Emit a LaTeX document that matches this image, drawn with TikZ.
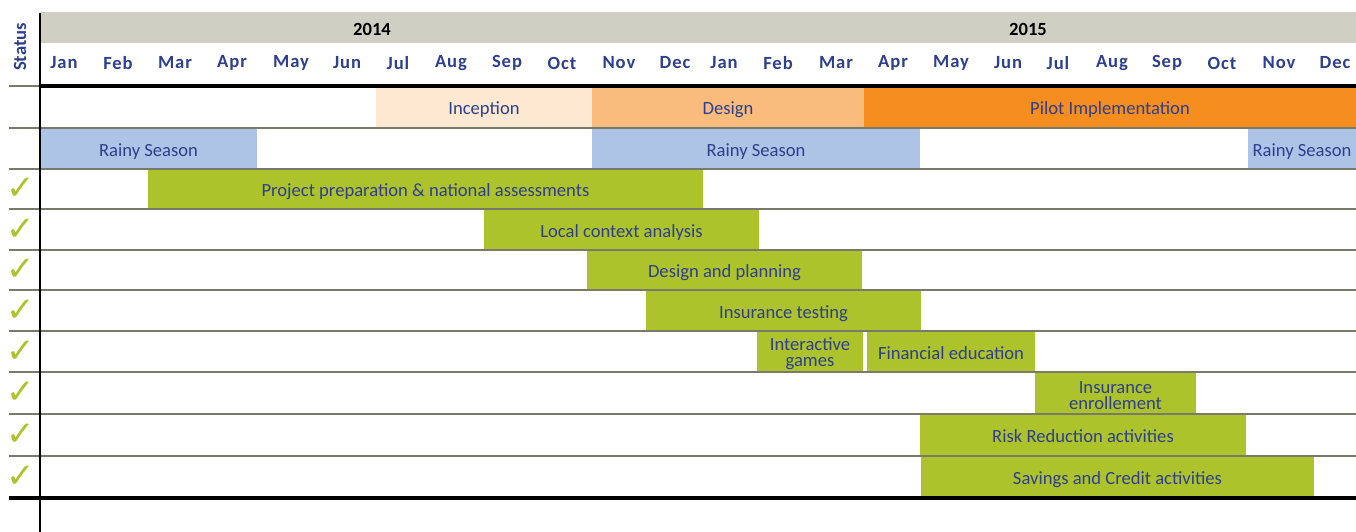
\documentclass[tikz,border=0pt]{standalone}
\usepackage{fontspec}
\setmainfont{Carlito}
\newfontfamily\symfont{DejaVu Sans}
\newfontfamily\monfont[LetterSpace=5]{Carlito}
\definecolor{txtblue}{HTML}{2F3F8C}
\definecolor{barGreen}{HTML}{ADC32B}
\definecolor{hdrGray}{HTML}{CFCFC3}
\definecolor{lineGray}{HTML}{7A7A6C}
\definecolor{incep}{HTML}{FDE8D1}
\definecolor{design}{HTML}{F9BC7C}
\definecolor{pilot}{HTML}{F68E1F}
\definecolor{rainy}{HTML}{AEC4E7}
\tikzset{
  barbase/.style={draw=none, anchor=south west, inner sep=0pt, outer sep=0pt, text=txtblue, font=\fontsize{18.6}{16}\selectfont, align=center},
  bar/.style={barbase, text height=19pt, text depth=4pt},
  bartwo/.style={barbase},
  mon/.style={text=txtblue, font=\monfont\bfseries\fontsize{18.6}{19}\selectfont},
  rowline/.style={draw=lineGray, line width=1.6pt},
  chk/.style={text=barGreen, font=\symfont\fontsize{34}{34}\selectfont, inner sep=0pt}
}
\begin{document}
\begin{tikzpicture}[x=1pt,y=-1pt]
\useasboundingbox (0,0) rectangle (1356,532);
% header
\fill[hdrGray] (40,12) rectangle (1356,43);
\node[font=\bfseries\fontsize{18.6}{19}\selectfont] (y14) at (372,29) {2014};
\node[font=\bfseries\fontsize{18.6}{19}\selectfont] (y15) at (1028,29) {2015};
\node[rotate=90, text=txtblue, font=\bfseries\fontsize{18.6}{19}\selectfont] (status) at (20,47) {Status};
\foreach \m/\x [count=\i] in {Jan/64,Feb/118,Mar/175,Apr/232,May/291,Jun/347,Jul/398,Aug/451,Sep/507,Oct/562,Nov/619,Dec/675,Jan/724,Feb/778,Mar/836,Apr/893,May/951,Jun/1008,Jul/1058,Aug/1112,Sep/1167,Oct/1222,Nov/1279,Dec/1335}
  \node[mon] (m\i) at (\x,63) {\m};
% bars row 1
\node[bar, fill=incep, minimum width=216pt, minimum height=42pt] (inc) at (376,128) {Inception};
\node[bar, fill=design, minimum width=272pt, minimum height=42pt] (des) at (592,128) {Design};
\node[bar, fill=pilot, minimum width=492pt, minimum height=42pt] (pil) at (864,128) {Pilot Implementation};
% row 2
\node[bar, fill=rainy, minimum width=217pt, minimum height=41pt] (r1) at (40,169) {Rainy Season};
\node[bar, fill=rainy, minimum width=328pt, minimum height=41pt] (r2) at (592,169) {Rainy Season};
\node[bar, fill=rainy, minimum width=108pt, minimum height=41pt] (r3) at (1248,169) {Rainy Season};
% activities
\node[bar, fill=barGreen, minimum width=555pt, minimum height=40pt] (a1) at (148,209) {Project preparation \& national assessments};
\node[bar, fill=barGreen, minimum width=275pt, minimum height=41pt] (a2) at (484,250) {Local context analysis};
\node[bar, fill=barGreen, minimum width=275pt, minimum height=40pt] (a3) at (587,290) {Design and planning};
\node[bar, fill=barGreen, minimum width=275pt, minimum height=41pt] (a4) at (646,331) {Insurance testing};
\node[bartwo, fill=barGreen, minimum width=106pt, minimum height=41pt] (a5) at (757,372) {\rule{0pt}{18pt}Interactive\\games};
\node[bar, fill=barGreen, minimum width=168pt, minimum height=41pt] (a6) at (867,372) {Financial education};
\node[bartwo, fill=barGreen, minimum width=161pt, minimum height=42pt] (a7) at (1035,414) {\rule{0pt}{18pt}Insurance\\enrollement};
\node[bar, fill=barGreen, minimum width=326pt, minimum height=42pt] (a8) at (920,456) {Risk Reduction activities};
\node[bar, fill=barGreen, minimum width=393pt, minimum height=42pt] (a9) at (921,498) {Savings and Credit activities};
% row lines
\draw[rowline] (9,86) -- (40,86);
\foreach \y in {128,169,209,250,290,331,372,414,456}
  \draw[rowline] (9,\y) -- (1356,\y);
\draw[line width=4pt] (40,86) -- (1356,86);
\draw[line width=4pt] (9,498) -- (1356,498);
\draw[line width=2.6pt] (40,13) -- (40,532);
% checks
\foreach \y [count=\i] in {189,230,270,311,352,393,435,477}
  \node[chk] (c\i) at (21,\y) {✓};
\end{tikzpicture}
\end{document}
